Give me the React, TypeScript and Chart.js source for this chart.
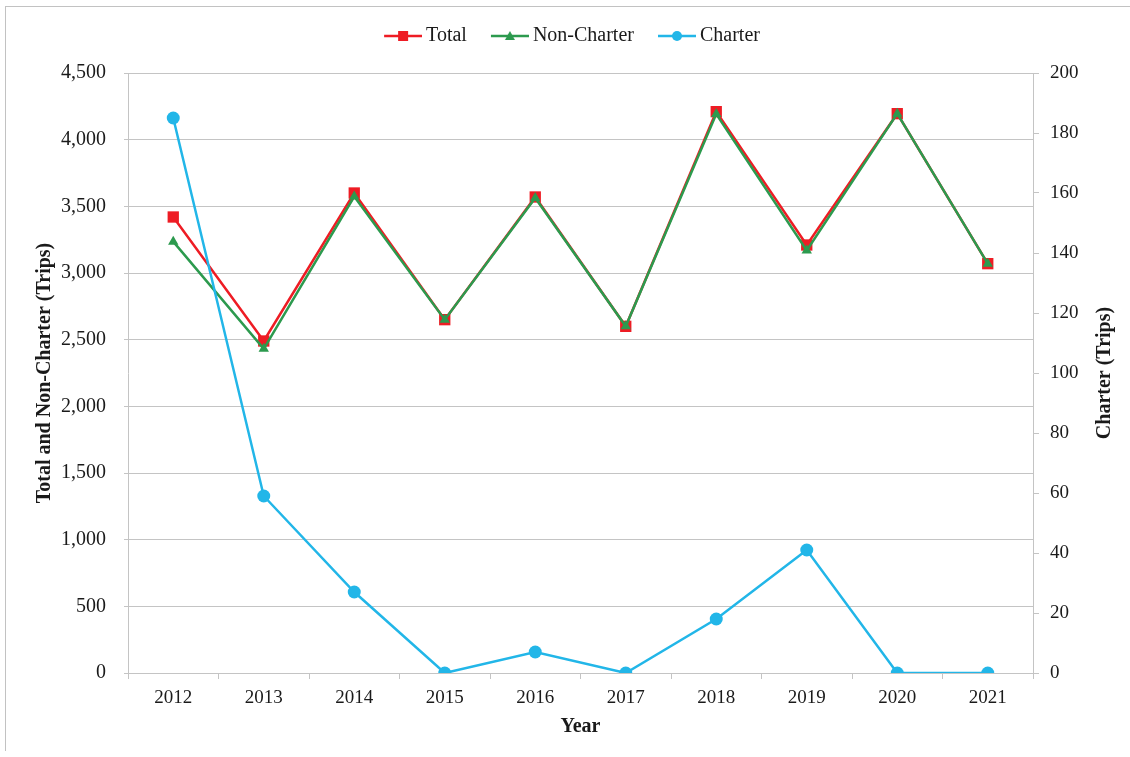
import React, { useEffect, useRef } from "react";
import { Chart, registerables } from "chart.js";

Chart.register(...registerables);

const years = ["2012", "2013", "2014", "2015", "2016", "2017", "2018", "2019", "2020", "2021"];
const totalTrips = [3420, 2490, 3600, 2650, 3570, 2600, 4210, 3210, 4195, 3070];
const nonCharterTrips = [3235, 2431, 3573, 2650, 3563, 2600, 4192, 3169, 4195, 3070];
const charterTrips = [185, 59, 27, 0, 7, 0, 18, 41, 0, 0];

const leftAxisTitle = "Total and Non-Charter (Trips)";
const rightAxisTitle = "Charter (Trips)";
const xAxisTitle = "Year";

const RED = "#ee1c24";
const GREEN = "#2c9a4e";
const BLUE = "#22b6e8";
const GRID = "#c4c4c4";
const FONT = "'Liberation Serif', 'Times New Roman', serif";

function legendIcon(color: string, style: string): HTMLCanvasElement {
  const c = document.createElement("canvas");
  c.width = 58;
  c.height = 16;
  const ctx = c.getContext("2d")!;
  ctx.strokeStyle = color;
  ctx.lineWidth = 2.5;
  ctx.beginPath();
  ctx.moveTo(20, 8);
  ctx.lineTo(58, 8);
  ctx.stroke();
  ctx.fillStyle = color;
  const cx = 39, cy = 8;
  ctx.beginPath();
  if (style === "rect") {
    ctx.rect(cx - 5, cy - 5, 10, 10);
  } else if (style === "triangle") {
    ctx.moveTo(cx, cy - 5);
    ctx.lineTo(cx + 5, cy + 4);
    ctx.lineTo(cx - 5, cy + 4);
    ctx.closePath();
  } else {
    ctx.arc(cx, cy, 5, 0, Math.PI * 2);
  }
  ctx.fill();
  return c;
}

const rightTitlePlugin = {
  id: "rightTitle",
  afterDraw(chart: any) {
    const { ctx, chartArea } = chart;
    ctx.save();
    ctx.translate(1105, (chartArea.top + chartArea.bottom) / 2);
    ctx.rotate(-Math.PI / 2);
    ctx.font = `bold 20px ${FONT}`;
    ctx.fillStyle = "#1a1a1a";
    ctx.textAlign = "center";
    ctx.textBaseline = "middle";
    ctx.fillText(rightAxisTitle, 0, 0);
    ctx.restore();
  },
};

export default function App() {
  const ref = useRef<HTMLCanvasElement>(null);

  useEffect(() => {
    if (!ref.current) return;
    Chart.defaults.font.family = FONT;
    const icons = {
      total: legendIcon(RED, "rect"),
      non: legendIcon(GREEN, "triangle"),
      charter: legendIcon(BLUE, "circle"),
    };
    const chart = new Chart(ref.current, {
      type: "line",
      data: {
        labels: years,
        datasets: [
          {
            label: "Total",
            data: totalTrips,
            borderColor: RED,
            backgroundColor: RED,
            borderWidth: 2.5,
            pointStyle: "rect",
            pointRadius: 8,
            pointBorderWidth: 0,
            yAxisID: "y",
            order: 3,
          },
          {
            label: "Non-Charter",
            data: nonCharterTrips,
            borderColor: GREEN,
            backgroundColor: GREEN,
            borderWidth: 2.5,
            pointStyle: "triangle",
            pointRadius: 6,
            pointBorderWidth: 0,
            yAxisID: "y",
            order: 2,
          },
          {
            label: "Charter",
            data: charterTrips,
            borderColor: BLUE,
            backgroundColor: BLUE,
            borderWidth: 2.5,
            pointStyle: "circle",
            pointRadius: 6.5,
            pointBorderWidth: 0,
            yAxisID: "y1",
            order: 1,
          },
        ],
      },
      options: {
        responsive: false,
        animation: false,
        layout: { padding: { top: 16, left: 0, right: 0, bottom: 0 } },
        plugins: {
          tooltip: { enabled: false },
          legend: {
            position: "top",
            labels: {
              usePointStyle: true,
              pointStyleWidth: 46,
              padding: 10,
              color: "#1a1a1a",
              font: { size: 20, family: FONT },
              sort: (a: any, b: any) => a.datasetIndex - b.datasetIndex,
              generateLabels: (chart: any) => {
                const list = [icons.total, icons.non, icons.charter];
                return chart.data.datasets.map((ds: any, i: number) => ({
                  text: ds.label,
                  datasetIndex: i,
                  pointStyle: list[i],
                  fillStyle: ds.borderColor,
                  strokeStyle: ds.borderColor,
                  lineWidth: 0,
                  hidden: false,
                  fontColor: "#1a1a1a",
                }));
              },
            },
          },
          title: {
            display: true,
            text: " ",
            weight: 500,
            font: { size: 10, lineHeight: 1 },
            padding: { top: 0, bottom: 7 },
          },
        },
        scales: {
          x: {
            type: "category",
            offset: true,
            afterFit: (s: any) => { s.height = 84; },
            grid: {
              offset: true,
              drawOnChartArea: false,
              drawTicks: true,
              tickLength: 6,
              color: GRID,
            },
            border: { display: true, color: GRID, width: 1 },
            ticks: { color: "#1a1a1a", font: { size: 19, family: FONT }, padding: 8, maxRotation: 0 },
            title: {
              display: true,
              text: xAxisTitle,
              color: "#1a1a1a",
              font: { size: 20, weight: "bold", family: FONT },
              padding: { top: 4, bottom: 18 },
            },
          },
          y: {
            position: "left",
            min: 0,
            max: 4500,
            afterFit: (s: any) => { s.width = 128; },
            ticks: { stepSize: 500, color: "#1a1a1a", font: { size: 20, family: FONT }, padding: 18 },
            grid: { color: GRID, tickLength: 4, drawTicks: true },
            border: { display: true, color: GRID, width: 1 },
            title: {
              display: true,
              text: leftAxisTitle,
              color: "#1a1a1a",
              font: { size: 20, weight: "bold", family: FONT },
              padding: { top: 33, bottom: 4 },
            },
          },
          y1: {
            position: "right",
            min: 0,
            max: 200,
            afterFit: (s: any) => { s.width = 97; },
            ticks: { stepSize: 20, color: "#1a1a1a", font: { size: 19, family: FONT }, padding: 11 },
            grid: { drawOnChartArea: false, color: GRID, tickLength: 6, drawTicks: true },
            border: { display: true, color: GRID, width: 1 },
          },
        },
      },
      plugins: [rightTitlePlugin],
    });
    return () => chart.destroy();
  }, []);

  return (
    <div style={{ position: "fixed", left: 0, top: 0, width: 1130, height: 757, background: "#fff" }}>
      <canvas ref={ref} width={1130} height={757} style={{ position: "absolute", left: 0, top: 0 }} />
      <div
        style={{
          position: "absolute",
          left: 5,
          top: 6,
          width: 1200,
          height: 744,
          borderLeft: "1px solid #c2c2c2",
          borderTop: "1px solid #c2c2c2",
          pointerEvents: "none",
        }}
      />
    </div>
  );
}
